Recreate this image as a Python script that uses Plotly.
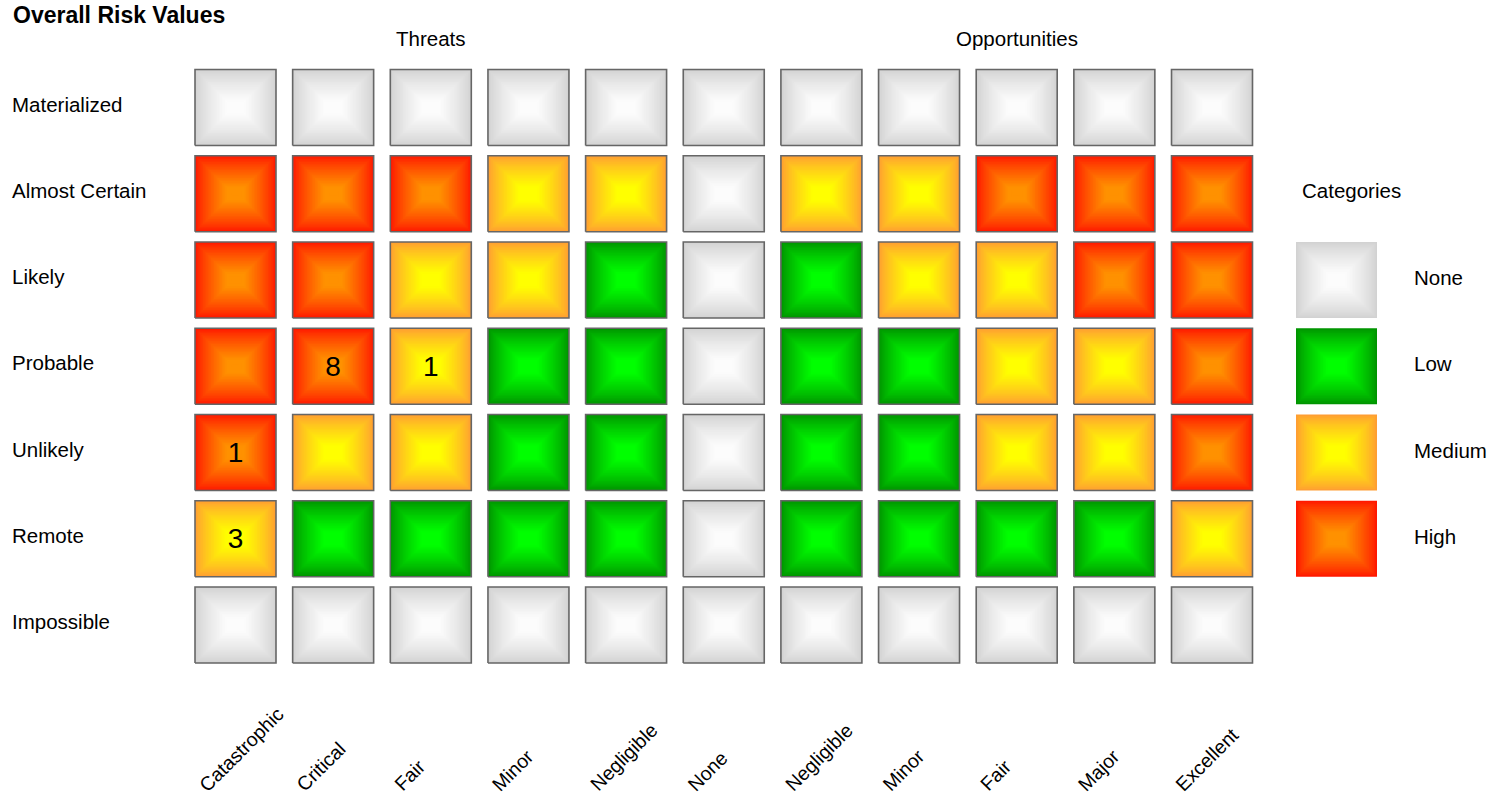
import plotly.graph_objects as go

# ---------------- data ----------------
likelihoods = ["Materialized", "Almost Certain", "Likely", "Probable",
               "Unlikely", "Remote", "Impossible"]
threat_impacts = ["Catastrophic", "Critical", "Fair", "Minor", "Negligible"]
neutral_impacts = ["None"]
opportunity_impacts = ["Negligible", "Minor", "Fair", "Major", "Excellent"]
impacts = threat_impacts + neutral_impacts + opportunity_impacts

categories = ["None", "Low", "Medium", "High"]

# risk category per likelihood row (N=None, L=Low, M=Medium, H=High)
risk_grid = [
    "NNNNNNNNNNN",  # Materialized
    "HHHMMNMMHHH",  # Almost Certain
    "HHMMLNLMMHH",  # Likely
    "HHMLLNLLMMH",  # Probable
    "HMMLLNLLMMH",  # Unlikely
    "MLLLLNLLLLM",  # Remote
    "NNNNNNNNNNN",  # Impossible
]
code_to_cat = {"N": "None", "L": "Low", "M": "Medium", "H": "High"}

# number of risks in each cell (0 = empty)
risk_counts = [
    [0, 0, 0, 0, 0, 0, 0, 0, 0, 0, 0],
    [0, 0, 0, 0, 0, 0, 0, 0, 0, 0, 0],
    [0, 0, 0, 0, 0, 0, 0, 0, 0, 0, 0],
    [0, 8, 1, 0, 0, 0, 0, 0, 0, 0, 0],
    [1, 0, 0, 0, 0, 0, 0, 0, 0, 0, 0],
    [3, 0, 0, 0, 0, 0, 0, 0, 0, 0, 0],
    [0, 0, 0, 0, 0, 0, 0, 0, 0, 0, 0],
]
legend_rows = ["Likely", "Probable", "Unlikely", "Remote"]  # rows where legend swatches sit

# ---------------- style ----------------
W, H = 1502, 795
PX_X0, PX_DX = 235.5, 97.65   # pixel of first column centre, column pitch
PX_Y0, PX_DY = 107.5, 86.25   # pixel of first row centre, row pitch
TILE_W, TILE_H = 81.0, 76.0
LEGEND_PX = 1336.5
FONT = "Arial, Liberation Sans, sans-serif"
LABEL_SIZE = 20.5

edge_col = {"None": (210, 210, 210), "Low": (0, 148, 0),
            "Medium": (255, 158, 50), "High": (255, 24, 0)}
centre_col = {"None": (252, 252, 252), "Low": (0, 255, 0),
              "Medium": (255, 255, 0), "High": (255, 145, 0)}

N_LEVELS = 24

def px_to_x(px):
    return (px - PX_X0) / PX_DX

def px_to_y(py):
    return -(py - PX_Y0) / PX_DY

legend_x = px_to_x(LEGEND_PX)

# tiles: (x, y, category, outlined)
tiles = []
for r, row in enumerate(risk_grid):
    for c, code in enumerate(row):
        tiles.append((c, -r, code_to_cat[code], True))
for cat, lr in zip(categories, legend_rows):
    tiles.append((legend_x, -likelihoods.index(lr), cat, False))

fig = go.Figure()

half_min = min(TILE_W, TILE_H) / 2.0
for cat in categories:
    e = edge_col[cat]
    ce = centre_col[cat]
    for k in range(N_LEVELS):
        s = k / (N_LEVELS - 1)
        f = min(1.0, s / 0.85) ** 0.8
        col = tuple(round(e[i] + (ce[i] - e[i]) * f) for i in range(3))
        inset = k * (half_min / N_LEVELS)
        hx = (TILE_W / 2 - inset) / PX_DX
        hy = (TILE_H / 2 - inset) / PX_DY
        xs, ys = [], []
        for (tx, ty, tc, _o) in tiles:
            if tc != cat:
                continue
            xs += [tx - hx, tx + hx, tx + hx, tx - hx, tx - hx, None]
            ys += [ty - hy, ty - hy, ty + hy, ty + hy, ty - hy, None]
        fig.add_trace(go.Scatter(
            x=xs, y=ys, mode="lines", fill="toself",
            fillcolor="rgb(%d,%d,%d)" % col,
            line=dict(width=0, color="rgba(0,0,0,0)"),
            hoverinfo="skip", showlegend=False))

# tile outlines
hx0 = (TILE_W / 2) / PX_DX
hy0 = (TILE_H / 2) / PX_DY
ox, oy = [], []
for (tx, ty, tc, outlined) in tiles:
    if not outlined:
        continue
    ox += [tx - hx0, tx + hx0, tx + hx0, tx - hx0, tx - hx0, None]
    oy += [ty - hy0, ty - hy0, ty + hy0, ty + hy0, ty - hy0, None]
fig.add_trace(go.Scatter(x=ox, y=oy, mode="lines",
                         line=dict(width=1.6, color="#666666"),
                         hoverinfo="skip", showlegend=False))

# counts
cx, cy, ct = [], [], []
for r, row in enumerate(risk_counts):
    for c, v in enumerate(row):
        if v:
            cx.append(c)
            cy.append(-r - 0.03)
            ct.append(str(v))
fig.add_trace(go.Scatter(x=cx, y=cy, mode="text", text=ct,
                         textfont=dict(family=FONT, size=28, color="black"),
                         hoverinfo="skip", showlegend=False))

ann = []
# title
ann.append(dict(text="<b>Overall Risk Values</b>", xref="paper", yref="paper",
                x=11 / W, y=1 - 15 / H, xanchor="left", yanchor="middle",
                showarrow=False, font=dict(family=FONT, size=23, color="black")))
# group headers
ann.append(dict(text="Threats", xref="x", yref="paper",
                x=(len(threat_impacts) - 1) / 2, y=1 - 39 / H,
                xanchor="center", yanchor="middle", showarrow=False,
                font=dict(family=FONT, size=LABEL_SIZE, color="black")))
start_opp = len(threat_impacts) + len(neutral_impacts)
ann.append(dict(text="Opportunities", xref="x", yref="paper",
                x=start_opp + (len(opportunity_impacts) - 1) / 2, y=1 - 39 / H,
                xanchor="center", yanchor="middle", showarrow=False,
                font=dict(family=FONT, size=LABEL_SIZE, color="black")))
# row labels
for r, name in enumerate(likelihoods):
    ann.append(dict(text=name, xref="paper", yref="y", x=10 / W,
                    y=-r + 3.5 / PX_DY,
                    xanchor="left", yanchor="middle", showarrow=False,
                    font=dict(family=FONT, size=LABEL_SIZE, color="black")))
# column labels
for c, name in enumerate(impacts):
    ann.append(dict(text=name, xref="x", yref="paper",
                    x=c - hx0 - 3 / PX_DX, y=-3 / H,
                    xanchor="left", yanchor="bottom", textangle=-45,
                    showarrow=False,
                    font=dict(family=FONT, size=19.5, color="black")))
# legend header and labels
ann.append(dict(text="Categories", xref="x", yref="y",
                x=px_to_x(1351), y=px_to_y(190),
                xanchor="center", yanchor="middle", showarrow=False,
                font=dict(family=FONT, size=LABEL_SIZE, color="black")))
for cat, lr in zip(categories, legend_rows):
    ann.append(dict(text=cat, xref="paper", yref="y", x=1412 / W,
                    y=-likelihoods.index(lr) + 2.5 / PX_DY,
                    xanchor="left", yanchor="middle",
                    showarrow=False,
                    font=dict(family=FONT, size=LABEL_SIZE, color="black")))

fig.update_layout(
    width=W, height=H,
    margin=dict(l=0, r=0, t=0, b=0),
    paper_bgcolor="white", plot_bgcolor="white",
    xaxis=dict(range=[px_to_x(0), px_to_x(W)], visible=False, fixedrange=True),
    yaxis=dict(range=[px_to_y(H), px_to_y(0)], visible=False, fixedrange=True),
    annotations=ann,
    showlegend=False,
)

fig.write_html("out.html")
